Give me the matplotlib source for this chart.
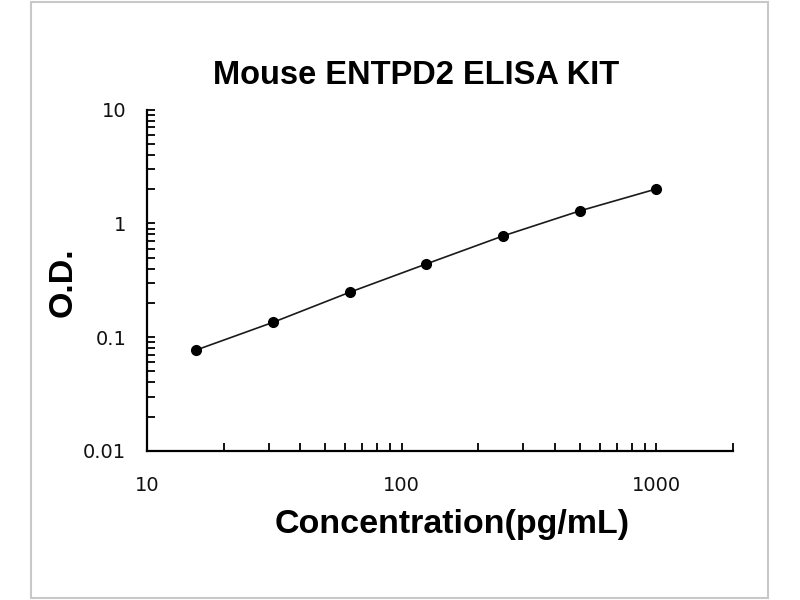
import matplotlib
matplotlib.use("Agg")
import matplotlib.pyplot as plt
from matplotlib.ticker import LogLocator, NullFormatter, FixedLocator, FixedFormatter
from matplotlib.patches import Rectangle

plt.rcParams["font.family"] = ["DejaVu Sans"]

# Data
concentration = [15.625, 31.25, 62.5, 125, 250, 500, 1000]
od = [0.0772, 0.135, 0.248, 0.440, 0.775, 1.285, 2.005]

title = "Mouse ENTPD2 ELISA KIT"
xlabel = "Concentration(pg/mL)"
ylabel = "O.D."
xticks = [10, 100, 1000]
xticklabels = ["10", "100", "1000"]
yticks = [0.01, 0.1, 1, 10]
yticklabels = ["0.01", "0.1", "1", "10"]

fig = plt.figure(figsize=(8, 6), dpi=100)
fig.patch.set_facecolor("white")
ax = fig.add_axes([147/800, 1-451/600, 586/800, 341.5/600])

ax.plot(concentration, od, color="#1a1a1a", lw=1.2, marker="o", ms=7,
        mfc="black", mec="black", zorder=3)

ax.set_xscale("log")
ax.set_yscale("log")
ax.set_xlim(10, 2000)
ax.set_ylim(0.01, 10)

for s in ["top", "right"]:
    ax.spines[s].set_visible(False)
for s in ["left", "bottom"]:
    ax.spines[s].set_linewidth(1.6)
    ax.spines[s].set_color("black")

ax.xaxis.set_major_locator(FixedLocator(xticks))
ax.xaxis.set_major_formatter(FixedFormatter(xticklabels))
ax.yaxis.set_major_locator(FixedLocator(yticks))
ax.yaxis.set_major_formatter(FixedFormatter(yticklabels))
ax.xaxis.set_minor_locator(LogLocator(base=10, subs=[2, 3, 4, 5, 6, 7, 8, 9], numticks=20))
ax.yaxis.set_minor_locator(LogLocator(base=10, subs=[2, 3, 4, 5, 6, 7, 8, 9], numticks=20))
ax.xaxis.set_minor_formatter(NullFormatter())
ax.yaxis.set_minor_formatter(NullFormatter())

ax.tick_params(axis="both", which="both", direction="in", length=6, width=1.3, color="black")
ax.tick_params(axis="y", which="major", pad=15, labelsize=14, labelcolor="#111111")
ax.tick_params(axis="x", which="major", pad=18, labelsize=14, labelcolor="#111111")

bold = dict(family="Liberation Sans", fontweight="bold", color="black")
fig.text(416/800, 1-84/600, title, ha="center", va="baseline", fontsize=23.5, **bold)
fig.text(452/800, 1-533/600, xlabel, ha="center", va="baseline", fontsize=24.5, **bold)
fig.text(72/800, 1-282/600, ylabel, ha="center", va="baseline", rotation=90,
         rotation_mode="anchor", fontsize=24.5, **bold)

fig.patches.append(Rectangle((31/800, 2/600), 737/800, 596/600, transform=fig.transFigure,
                             fill=False, edgecolor="#c8c8c8", lw=1.5))

fig.savefig("out.png", dpi=100)
